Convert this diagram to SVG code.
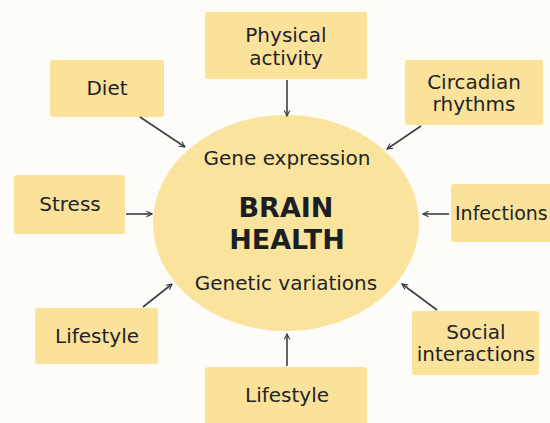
<svg xmlns="http://www.w3.org/2000/svg" width="550" height="423" viewBox="0 0 550 423">
<style>
.bg{fill:#fdfcf8}
.box{fill:#fbe29b}
.t{font-family:"DejaVu Sans","Liberation Sans",sans-serif;font-size:20px;fill:#1f2328;text-anchor:middle}
.i{font-family:"DejaVu Sans","Liberation Sans",sans-serif;font-size:20px;fill:#1f2328;text-anchor:middle}
.b{font-family:"DejaVu Sans","Liberation Sans",sans-serif;font-size:27px;font-weight:bold;fill:#1a1f24;text-anchor:middle}
.c line{stroke:#3a3f45;stroke-width:1.6;marker-end:url(#ah)}
</style>
<defs>
<marker id="ah" viewBox="0 0 10 10" refX="9" refY="5" markerWidth="7" markerHeight="7" orient="auto" markerUnits="userSpaceOnUse">
<path d="M1,1 L9,5 L1,9" fill="none" stroke="#3a3f45" stroke-width="1.6"/>
</marker>
</defs>
<rect class="bg" width="550" height="423"/>
<g id="brain">
<ellipse cx="286" cy="223" rx="133" ry="108" fill="#fae39d"/>
<text class="i" x="287" y="165">Gene expression</text>
<text class="b" x="286" y="217">BRAIN</text>
<text class="b" x="287" y="249">HEALTH</text>
<text class="i" x="286" y="290">Genetic variations</text>
</g>
<g id="physical"><rect class="box" x="205" y="12" width="162" height="67" rx="3"/><text class="t" x="286" y="42">Physical</text><text class="t" x="286" y="65">activity</text></g>
<g id="diet"><rect class="box" x="50" y="60" width="114" height="57" rx="3"/><text class="t" x="107" y="95">Diet</text></g>
<g id="circadian"><rect class="box" x="405" y="60" width="138" height="65" rx="3"/><text class="t" x="474" y="89">Circadian</text><text class="t" x="474" y="111">rhythms</text></g>
<g id="stress"><rect class="box" x="14" y="175" width="111" height="59" rx="3"/><text class="t" x="70" y="211">Stress</text></g>
<g id="infections"><rect class="box" x="451" y="184" width="110" height="58" rx="3"/><text class="t" x="455" y="220" style="text-anchor:start;font-size:19px">Infections</text></g>
<g id="lifestyle-left"><rect class="box" x="35" y="308" width="123" height="56" rx="3"/><text class="t" x="97" y="343">Lifestyle</text></g>
<g id="lifestyle-bottom"><rect class="box" x="205" y="367" width="162" height="60" rx="3"/><text class="t" x="287" y="402">Lifestyle</text></g>
<g id="social"><rect class="box" x="412" y="311" width="127" height="64" rx="3"/><text class="t" x="476" y="339">Social</text><text class="t" x="476" y="361">interactions</text></g>
<g class="c" id="connectors">
<line x1="140" y1="117" x2="185" y2="147"/>
<line x1="287" y1="80" x2="287" y2="116"/>
<line x1="421" y1="126" x2="387" y2="149"/>
<line x1="126" y1="214" x2="152" y2="214"/>
<line x1="449" y1="214" x2="423" y2="214"/>
<line x1="143" y1="307" x2="172" y2="284"/>
<line x1="287" y1="366" x2="287" y2="334"/>
<line x1="437" y1="310" x2="402" y2="284"/>
</g>
</svg>
